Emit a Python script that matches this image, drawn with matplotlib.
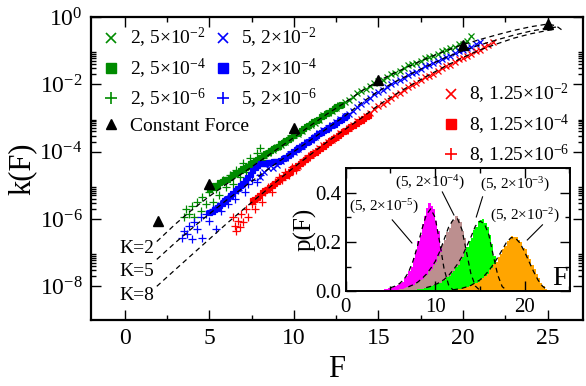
import numpy as np
import matplotlib
matplotlib.use("Agg")
import matplotlib.pyplot as plt
from matplotlib.lines import Line2D
from matplotlib.ticker import FixedLocator, MultipleLocator, NullFormatter, FixedFormatter

plt.rcParams['font.family'] = ['Liberation Serif', 'DejaVu Serif']
plt.rcParams['mathtext.fontset'] = 'custom'
plt.rcParams['mathtext.rm'] = 'Liberation Serif'
plt.rcParams['mathtext.it'] = 'Liberation Serif:italic'

# ---------------- main panel data (F, log10 k) ----------------
fit_K2_F = [1.9, 3, 4, 5, 6, 7, 8, 9, 10, 11, 12, 13, 14, 15, 16, 17, 18, 19, 20, 21, 22, 23, 24, 25, 25.5, 26]
fit_K2_lk = [-6.67, -6.15, -5.72, -5.33, -4.97, -4.63, -4.28, -3.93, -3.58, -3.22, -2.87, -2.55, -2.2, -1.9, -1.65,
             -1.42, -1.2, -1.0, -0.82, -0.67, -0.53, -0.4, -0.29, -0.21, -0.26, -0.44]
fit_K5_F = [1.9, 3, 4, 5, 6, 7, 8, 9, 10, 11, 12, 13, 14, 15, 16, 17, 18, 19, 20, 21, 22, 23, 24, 25, 25.5]
fit_K5_lk = [-7.2, -6.7, -6.27, -5.85, -5.45, -5.07, -4.7, -4.33, -4.0, -3.65, -3.3, -2.95, -2.55, -2.2, -1.92,
             -1.67, -1.43, -1.2, -1.0, -0.83, -0.68, -0.54, -0.42, -0.33, -0.3]
fit_K8_F = [1.9, 3, 4, 5, 6, 7, 8, 9, 10, 11, 12, 13, 14, 15, 16, 17, 18, 19, 20, 21, 22, 23, 24, 25, 25.5]
fit_K8_lk = [-8.0, -7.5, -7.05, -6.6, -6.15, -5.72, -5.3, -4.88, -4.47, -4.08, -3.7, -3.35, -3.0, -2.62, -2.3,
             -2.0, -1.72, -1.45, -1.2, -0.98, -0.8, -0.63, -0.5, -0.4, -0.36]

g_plus_F = [3.5, 3.6, 3.8, 4.0, 4.1, 4.3, 4.5, 4.6, 4.8, 5.0, 5.2, 5.4, 5.6, 5.8, 6.0, 6.2, 6.4, 6.6, 6.8, 7.0,
            7.2, 7.4, 7.6, 7.8, 8.0, 8.2, 8.5]
g_plus_lk = [-5.95, -5.7, -5.85, -5.6, -5.95, -5.5, -5.75, -5.35, -5.55, -5.2, -5.5, -5.1, -5.3, -4.85, -5.05,
             -4.7, -4.95, -4.55, -4.75, -4.35, -4.6, -4.2, -4.45, -4.05, -3.9, -4.25, -4.0]
g_sq_F = [5.0, 5.15, 5.3, 5.45, 5.6, 5.75, 5.9, 6.05, 6.2, 6.35, 6.5, 6.65, 6.8, 6.95, 7.1, 7.25, 7.4, 7.55, 7.7,
          7.85, 8.0, 8.15, 8.3, 8.45, 8.6, 8.75, 8.9, 9.05, 9.2, 9.35, 9.5, 9.65, 9.8, 9.95, 10.1, 10.25, 10.4,
          10.55, 10.7, 10.85, 11.0, 11.15, 11.3, 11.45, 11.6, 11.75, 11.9, 12.05, 12.2, 12.35, 12.5, 12.65, 12.8]
g_sq_lk = [-5.12, -5.05, -4.98, -5.0, -4.9, -4.86, -4.82, -4.8, -4.74, -4.66, -4.62, -4.6, -4.55, -4.48, -4.45,
           -4.42, -4.35, -4.3, -4.25, -4.22, -4.15, -4.1, -4.05, -4.02, -3.95, -3.9, -3.85, -3.82, -3.75, -3.7,
           -3.65, -3.62, -3.55, -3.5, -3.45, -3.42, -3.35, -3.3, -3.25, -3.22, -3.15, -3.1, -3.05, -3.02, -2.95,
           -2.9, -2.85, -2.82, -2.75, -2.7, -2.65, -2.62, -2.57]
g_x_F = [8.0, 8.25, 8.5, 8.75, 9.0, 9.25, 9.5, 9.75, 10.0, 10.25, 10.5, 10.75, 11.0, 11.25, 11.5, 11.75, 12.0,
         12.25, 12.5, 12.75, 13.0, 13.25, 13.5, 13.75, 14.0, 14.25, 14.5, 14.75, 15.0, 15.25, 15.5, 15.75, 16.0,
         16.25, 16.5, 16.75, 17.0, 17.25, 17.5, 17.75, 18.0, 18.25, 18.5, 18.75, 19.0, 19.25, 19.5, 19.75, 20.0,
         20.25, 20.5]
g_x_lk = [-4.2, -4.1, -4.05, -3.95, -3.85, -3.8, -3.7, -3.6, -3.5, -3.47, -3.4, -3.28, -3.2, -3.15, -3.05, -2.92,
          -2.85, -2.8, -2.7, -2.6, -2.52, -2.47, -2.38, -2.27, -2.2, -2.14, -2.05, -1.95, -1.9, -1.86, -1.78, -1.7,
          -1.65, -1.6, -1.52, -1.44, -1.4, -1.36, -1.3, -1.22, -1.18, -1.15, -1.1, -1.02, -0.98, -0.93, -0.88,
          -0.8, -0.8, -0.72, -0.55]

b_plus_F = [3.4, 3.5, 3.7, 3.8, 4.0, 4.1, 4.3, 4.5, 4.6, 4.8, 5.0, 5.2, 5.4, 5.5, 5.7, 5.9, 6.1, 6.3, 6.5, 6.7,
            6.9, 7.1, 7.3, 7.5, 7.8, 8.0]
b_plus_lk = [-6.55, -6.35, -6.45, -6.2, -6.6, -6.1, -6.3, -5.95, -6.55, -5.85, -6.05, -5.7, -6.3, -5.6, -5.75,
             -5.45, -5.55, -5.3, -5.4, -5.15, -5.05, -5.2, -4.95, -4.85, -4.9, -4.7]
b_sq_F = [5.0, 5.15, 5.3, 5.45, 5.6, 5.75, 5.9, 6.05, 6.2, 6.35, 6.5, 6.65, 6.8, 6.95, 7.1, 7.25, 7.4, 7.55, 7.7,
          7.85, 8.0, 8.15, 8.3, 8.45, 8.6, 8.75, 8.9, 9.05, 9.2, 9.35, 9.5, 9.65, 9.8, 9.95, 10.1, 10.25, 10.4,
          10.55, 10.7, 10.85, 11.0, 11.15, 11.3, 11.45, 11.6, 11.75, 11.9, 12.05, 12.2, 12.35, 12.5, 12.65, 12.8,
          12.95, 13.1]
b_sq_lk = [-5.8, -5.75, -5.7, -5.65, -5.58, -5.52, -5.45, -5.38, -5.3, -5.22, -5.15, -5.08, -5.0, -4.92, -4.85,
           -4.75, -4.65, -4.55, -4.45, -4.4, -4.35, -4.34, -4.33, -4.32, -4.3, -4.29, -4.28, -4.27, -4.25, -4.2,
           -4.15, -4.1, -4.05, -3.98, -3.92, -3.87, -3.82, -3.77, -3.72, -3.67, -3.62, -3.56, -3.5, -3.46, -3.42,
           -3.37, -3.32, -3.27, -3.22, -3.17, -3.12, -3.07, -3.02, -2.97, -2.92]
b_x_F = [8.0, 8.25, 8.5, 8.75, 9.0, 9.25, 9.5, 9.75, 10.0, 10.25, 10.5, 10.75, 11.0, 11.25, 11.5, 11.75, 12.0,
         12.25, 12.5, 12.75, 13.0, 13.25, 13.5, 13.75, 14.0, 14.25, 14.5, 14.75, 15.0, 15.25, 15.5, 15.75, 16.0,
         16.25, 16.5, 16.75, 17.0, 17.25, 17.5, 17.75, 18.0, 18.25, 18.5, 18.75, 19.0, 19.25, 19.5, 19.75, 20.0,
         20.25, 20.5, 20.75, 21.0]
b_x_lk = [-4.75, -4.6, -4.5, -4.48, -4.4, -4.28, -4.2, -4.08, -4.0, -3.93, -3.82, -3.72, -3.65, -3.57, -3.45,
          -3.36, -3.3, -3.22, -3.12, -3.02, -2.95, -2.88, -2.78, -2.67, -2.58, -2.5, -2.4, -2.3, -2.22, -2.16,
          -2.08, -1.99, -1.92, -1.87, -1.8, -1.72, -1.67, -1.62, -1.55, -1.47, -1.43, -1.38, -1.3, -1.24, -1.2,
          -1.15, -1.08, -1.01, -0.98, -0.93, -0.88, -0.8, -0.75]

r_plus_F = [6.4, 6.5, 6.6, 6.7, 6.8, 6.9, 7.0, 7.2, 7.3, 7.5, 7.7, 7.9, 8.1, 8.3, 8.5, 8.7, 8.9, 9.1, 9.3, 9.5,
            9.7, 9.9, 10.1, 10.3, 10.5]
r_plus_lk = [-5.95, -6.2, -6.35, -6.05, -6.25, -5.85, -6.1, -5.7, -5.95, -5.55, -5.7, -5.35, -5.5, -5.2, -5.05,
             -5.2, -4.9, -4.75, -4.85, -4.6, -4.7, -4.45, -4.55, -4.4, -4.3]
r_sq_F = [7.5, 7.65, 7.8, 7.95, 8.1, 8.25, 8.4, 8.55, 8.7, 8.85, 9.0, 9.15, 9.3, 9.45, 9.6, 9.75, 9.9, 10.05, 10.2,
          10.35, 10.5, 10.65, 10.8, 10.95, 11.1, 11.25, 11.4, 11.55, 11.7, 11.85, 12.0, 12.15, 12.3, 12.45, 12.6,
          12.75, 12.9, 13.05, 13.2, 13.35, 13.5, 13.65, 13.8, 13.95, 14.1, 14.25, 14.4]
r_sq_lk = [-5.45, -5.4, -5.35, -5.28, -5.2, -5.15, -5.1, -5.04, -4.98, -4.93, -4.88, -4.82, -4.75, -4.68, -4.62,
           -4.56, -4.5, -4.45, -4.4, -4.34, -4.28, -4.22, -4.15, -4.1, -4.05, -4.0, -3.95, -3.88, -3.82, -3.77,
           -3.72, -3.66, -3.6, -3.55, -3.5, -3.45, -3.4, -3.35, -3.3, -3.25, -3.2, -3.15, -3.1, -3.05, -3.0,
           -2.95, -2.9]
r_x_F = [10.0, 10.25, 10.5, 10.75, 11.0, 11.25, 11.5, 11.75, 12.0, 12.25, 12.5, 12.75, 13.0, 13.25, 13.5, 13.75,
         14.0, 14.25, 14.5, 14.75, 15.0, 15.25, 15.5, 15.75, 16.0, 16.25, 16.5, 16.75, 17.0, 17.25, 17.5, 17.75,
         18.0, 18.25, 18.5, 18.75, 19.0, 19.25, 19.5, 19.75, 20.0, 20.25, 20.5, 20.75, 21.0, 21.25, 21.5, 21.75]
r_x_lk = [-4.5, -4.42, -4.3, -4.18, -4.1, -4.02, -3.9, -3.79, -3.72, -3.65, -3.55, -3.44, -3.38, -3.3, -3.2, -3.09,
          -3.02, -2.95, -2.85, -2.73, -2.65, -2.59, -2.5, -2.4, -2.33, -2.27, -2.18, -2.08, -2.02, -1.96, -1.88,
          -1.79, -1.74, -1.68, -1.6, -1.51, -1.47, -1.42, -1.35, -1.26, -1.22, -1.17, -1.1, -1.02, -0.98, -0.9,
          -0.82, -0.74]

cf_F = [2, 5, 10, 15, 20, 25]
cf_lk = [-6.07, -4.97, -3.29, -1.87, -0.83, -0.21]

legend_green_labels = ['2, 5×10$^{-2}$', '2, 5×10$^{-4}$', '2, 5×10$^{-6}$', 'Constant Force']
legend_blue_labels = ['5, 2×10$^{-2}$', '5, 2×10$^{-4}$', '5, 2×10$^{-6}$']
legend_red_labels = ['8, 1.25×10$^{-2}$', '8, 1.25×10$^{-4}$', '8, 1.25×10$^{-6}$']
K_labels = ['K=2', 'K=5', 'K=8']
xticks_main = [0, 5, 10, 15, 20, 25]
yticks_exp = [0, -2, -4, -6, -8]

# ---------------- inset data ----------------
bin_w = 0.25
mag_start = 0.0
mag_h = [0.001, 0.001, 0.001, 0.001, 0.002, 0.001, 0.002, 0.002, 0.002, 0.003, 0.003, 0.003, 0.004, 0.004, 0.005, 0.005,
         0.006, 0.008, 0.009, 0.011, 0.014, 0.016, 0.021, 0.026,
         0.034, 0.038, 0.052, 0.063, 0.083, 0.098, 0.135, 0.165,
         0.205, 0.23, 0.275, 0.305, 0.34, 0.36, 0.345, 0.335,
         0.285, 0.245, 0.175, 0.125, 0.068, 0.037, 0.014, 0.005]
brn_start = 5.0
brn_h = [0.003, 0.004, 0.005, 0.006, 0.008, 0.01, 0.012, 0.015, 0.017, 0.021, 0.025, 0.031, 0.035, 0.043, 0.05,
         0.06, 0.066, 0.082, 0.09, 0.108, 0.118, 0.143, 0.158, 0.19, 0.207, 0.24, 0.255, 0.285, 0.288, 0.305,
         0.292, 0.282, 0.245, 0.215, 0.155, 0.115, 0.068, 0.042, 0.019, 0.009, 0.003]
grn_start = 7.0
grn_h = [0.003, 0.004, 0.005, 0.006, 0.007, 0.008, 0.01, 0.012, 0.014, 0.017, 0.019, 0.023, 0.026, 0.031, 0.034,
         0.041, 0.046, 0.057, 0.062, 0.075, 0.083, 0.1, 0.108, 0.128, 0.138, 0.163, 0.178, 0.204, 0.218, 0.25,
         0.262, 0.285, 0.288, 0.295, 0.277, 0.262, 0.228, 0.192, 0.143, 0.102, 0.063, 0.036, 0.017, 0.008, 0.003]
org_start = 11.0
org_h = [0.002, 0.003, 0.003, 0.004, 0.005, 0.006, 0.007, 0.009, 0.011, 0.013, 0.016, 0.019, 0.023, 0.027, 0.033,
         0.037, 0.046, 0.052, 0.063, 0.071, 0.084, 0.094, 0.11, 0.12, 0.139, 0.15, 0.17, 0.183, 0.202, 0.212,
         0.224, 0.219, 0.221, 0.207, 0.2, 0.176, 0.172, 0.148, 0.132, 0.108, 0.091, 0.068, 0.052, 0.034, 0.021,
         0.01, 0.004]

mag_fit_F = [5, 5.5, 6, 6.5, 7, 7.5, 8, 8.5, 9, 9.5, 10, 10.5, 11, 11.5, 12]
mag_fit_p = [0.013, 0.02, 0.03, 0.047, 0.075, 0.12, 0.18, 0.25, 0.31, 0.335, 0.3, 0.2, 0.09, 0.025, 0.004]
brn_fit_F = [7, 7.5, 8, 8.5, 9, 9.5, 10, 10.5, 11, 11.5, 12, 12.5, 13, 13.5, 14, 14.5, 15]
brn_fit_p = [0.017, 0.025, 0.035, 0.05, 0.068, 0.092, 0.12, 0.16, 0.21, 0.26, 0.29, 0.295, 0.25, 0.16, 0.07,
             0.02, 0.003]
grn_fit_F = [9, 9.5, 10, 10.5, 11, 11.5, 12, 12.5, 13, 13.5, 14, 14.5, 15, 15.5, 16, 16.5, 17, 17.5, 18]
grn_fit_p = [0.014, 0.019, 0.026, 0.035, 0.047, 0.063, 0.085, 0.11, 0.14, 0.18, 0.22, 0.265, 0.285, 0.275, 0.23,
             0.145, 0.065, 0.018, 0.003]
org_fit_F = [12, 13, 14, 15, 15.5, 16, 16.5, 17, 17.5, 18, 18.5, 19, 19.5, 20, 20.5, 21, 21.5, 22, 22.5]
org_fit_p = [0.005, 0.011, 0.023, 0.045, 0.062, 0.083, 0.108, 0.137, 0.168, 0.2, 0.218, 0.215, 0.195, 0.16, 0.12,
             0.08, 0.045, 0.02, 0.006]

inset_labels = ['(5, 2×10$^{-5}$)', '(5, 2×10$^{-4}$)', '(5, 2×10$^{-3}$)', '(5, 2×10$^{-2}$)']

# ---------------- drawing ----------------
GREEN = '#008b00'
BLUE = '#0000ff'
RED = '#ff0000'

fig = plt.figure(figsize=(5.86, 3.86), dpi=100)
ax = fig.add_axes([0.155, 0.171, 0.840, 0.785])


def L(v):
    return 10.0 ** np.asarray(v)


dash = (4, 3)
for F_, lk_ in [(fit_K2_F, fit_K2_lk), (fit_K5_F, fit_K5_lk), (fit_K8_F, fit_K8_lk)]:
    ax.plot(F_, L(lk_), color='k', lw=0.9, dashes=dash, zorder=3)

ms_x, ms_s, ms_p = 4.5, 3.6, 5.5
series = [
    (g_plus_F, g_plus_lk, GREEN, '+', ms_p), (g_sq_F, g_sq_lk, GREEN, 's', ms_s), (g_x_F, g_x_lk, GREEN, 'x', ms_x),
    (b_plus_F, b_plus_lk, BLUE, '+', ms_p), (b_sq_F, b_sq_lk, BLUE, 's', ms_s), (b_x_F, b_x_lk, BLUE, 'x', ms_x),
    (r_plus_F, r_plus_lk, RED, '+', ms_p), (r_sq_F, r_sq_lk, RED, 's', ms_s), (r_x_F, r_x_lk, RED, 'x', ms_x),
]
for F_, lk_, c, m, s in series:
    ax.plot(F_, L(lk_), linestyle='none', marker=m, color=c, ms=s, mew=0.9, zorder=2)

ax.plot(cf_F, L(cf_lk), linestyle='none', marker='^', color='k', ms=7, zorder=4)

ax.set_yscale('log')
ax.set_xlim(-2, 27.1)
ax.set_ylim(1e-9, 1.0)

ax.xaxis.set_major_locator(FixedLocator(xticks_main))
ax.xaxis.set_minor_locator(MultipleLocator(2.5))
ax.yaxis.set_major_locator(FixedLocator([10.0 ** e for e in yticks_exp]))
ax.yaxis.set_major_formatter(FixedFormatter(['$10^{%d}$' % e for e in yticks_exp]))
minor_y = [k * 10.0 ** e for e in [-2, -4, -6, -8] for k in range(2, 10)]
ax.yaxis.set_minor_locator(FixedLocator(minor_y))
ax.yaxis.set_minor_formatter(NullFormatter())
ax.tick_params(which='both', direction='in', top=True, right=True, width=1.0, labelsize=17, pad=6)
ax.tick_params(which='major', length=7)
ax.tick_params(which='minor', length=3.5)
for s in ax.spines.values():
    s.set_linewidth(1.6)

ax.set_xlabel('F', fontsize=22, labelpad=4)
ax.set_ylabel('k(F)', fontsize=22, labelpad=2)

for lab, lk in zip(K_labels, [-6.87, -7.56, -8.27]):
    ax.text(1.75, 10.0 ** lk, lab, fontsize=14, ha='right', va='center')

leg_kw = dict(frameon=False, fontsize=14, handlelength=0.9, handletextpad=0.5, labelspacing=0.32,
              borderaxespad=0.0, loc='upper left')
hg = [Line2D([], [], ls='none', marker='x', color=GREEN, ms=7, mew=1.2),
      Line2D([], [], ls='none', marker='s', color=GREEN, ms=7),
      Line2D([], [], ls='none', marker='+', color=GREEN, ms=9, mew=1.2),
      Line2D([], [], ls='none', marker='^', color='k', ms=7)]
legg = ax.legend(hg, legend_green_labels, bbox_to_anchor=(0.008, 0.995), **leg_kw)
ax.add_artist(legg)
hb = [Line2D([], [], ls='none', marker='x', color=BLUE, ms=7, mew=1.2),
      Line2D([], [], ls='none', marker='s', color=BLUE, ms=7),
      Line2D([], [], ls='none', marker='+', color=BLUE, ms=9, mew=1.2)]
legb = ax.legend(hb, legend_blue_labels, bbox_to_anchor=(0.234, 0.995), **leg_kw)
ax.add_artist(legb)
hr = [Line2D([], [], ls='none', marker='x', color=RED, ms=7, mew=1.2),
      Line2D([], [], ls='none', marker='s', color=RED, ms=7),
      Line2D([], [], ls='none', marker='+', color=RED, ms=9, mew=1.2)]
ax.legend(hr, legend_red_labels, bbox_to_anchor=(0.698, 0.81), **leg_kw)

# ---------------- inset ----------------
ins = fig.add_axes([0.590, 0.246, 0.383, 0.319])
ins.set_facecolor('white')
for start, h, col in [(mag_start, mag_h, '#ff00ff'), (brn_start, brn_h, '#bc8f8f'),
                      (grn_start, grn_h, '#00ff00'), (org_start, org_h, '#ffa500')]:
    edges = start + bin_w * np.arange(len(h))
    ins.bar(edges, h, width=bin_w, align='edge', color=col, linewidth=0)
for F_, p_ in [(mag_fit_F, mag_fit_p), (brn_fit_F, brn_fit_p), (grn_fit_F, grn_fit_p), (org_fit_F, org_fit_p)]:
    ins.plot(F_, p_, color='k', lw=0.9, dashes=dash)

ins.set_xlim(0, 25.1)
ins.set_ylim(0, 0.502)
ins.xaxis.set_major_locator(FixedLocator([0, 10, 20]))
ins.xaxis.set_minor_locator(MultipleLocator(5))
ins.yaxis.set_major_locator(FixedLocator([0.0, 0.2, 0.4]))
ins.yaxis.set_major_formatter(FixedFormatter(['0.0', '0.2', '0.4']))
ins.yaxis.set_minor_locator(MultipleLocator(0.1))
ins.tick_params(which='both', direction='in', top=True, right=True, width=1.0, labelsize=15)
ins.tick_params(axis='y', pad=3)
ins.tick_params(axis='x', pad=5)
ins.tick_params(which='major', length=7)
ins.tick_params(which='minor', length=3.5)
for s in ins.spines.values():
    s.set_linewidth(1.4)
ins.set_ylabel('p(F)', fontsize=18, labelpad=-1)
ins.text(24.8, 0.0, 'F', fontsize=20, ha='right', va='bottom')

ann = [(inset_labels[0], (4.3, 0.343), (5.2, 0.29), (7.4, 0.196)),
       (inset_labels[1], (9.4, 0.44), (10.8, 0.404), (12.1, 0.31)),
       (inset_labels[2], (18.9, 0.433), (15.3, 0.384), (14.6, 0.302)),
       (inset_labels[3], (20.0, 0.306), (22.0, 0.27), (20.3, 0.208))]
for txt, tp, a, b in ann:
    ins.text(tp[0], tp[1], txt, fontsize=11, ha='center', va='center')
    ins.plot([a[0], b[0]], [a[1], b[1]], color='k', lw=0.8)

fig.savefig('out.png', dpi=100)
